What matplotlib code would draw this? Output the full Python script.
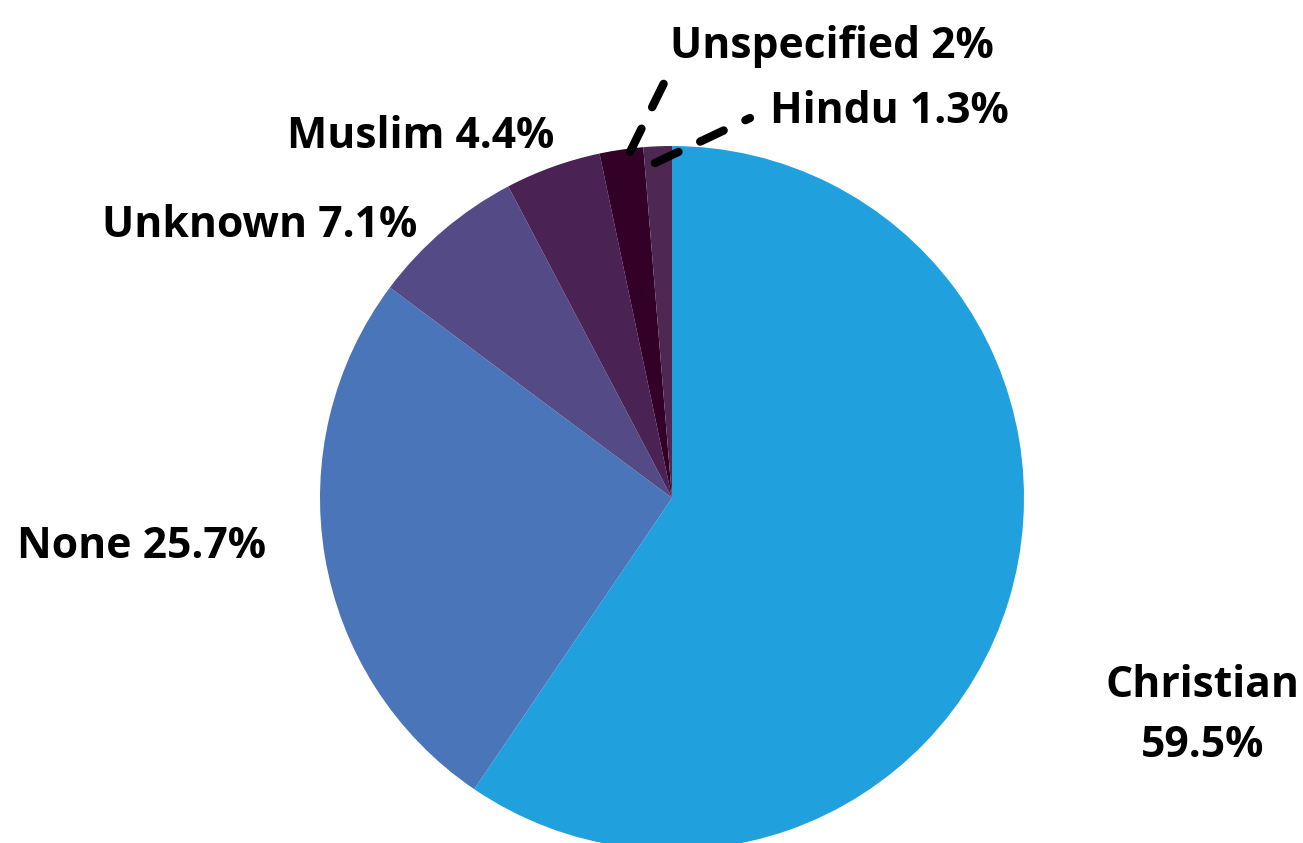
import matplotlib
matplotlib.use("Agg")
import matplotlib.pyplot as plt
import numpy as np

plt.rcParams['font.family'] = ['Open Sans', 'DejaVu Sans']
plt.rcParams['lines.scale_dashes'] = False

categories = ["Christian", "None", "Unknown", "Muslim", "Unspecified", "Hindu"]
values = [59.5, 25.7, 7.1, 4.4, 2.0, 1.3]
value_labels = ["59.5%", "25.7%", "7.1%", "4.4%", "2%", "1.3%"]
colors = ["#21a0de", "#4a75b8", "#544a86", "#4b2254", "#330027", "#4e2852"]

W, H = 1303, 843
fig = plt.figure(figsize=(W / 100, H / 100), dpi=100)
ax = fig.add_axes([0, 0, 1, 1])
ax.set_xlim(0, W)
ax.set_ylim(0, H)
ax.set_aspect('equal')
ax.axis('off')

cx, cy, R = 672, H - 498, 352
ax.pie(values, colors=colors, startangle=90, counterclock=False,
       center=(cx, cy), radius=R, frame=True,
       wedgeprops=dict(linewidth=0))
ax.set_xlim(0, W)
ax.set_ylim(0, H)
ax.axis('off')

fs = 30.7
kw = dict(fontsize=fs, fontweight='bold', color='black')

def py(y):
    return H - y

# labels (pixel-positioned)
ax.text(1203, py(697), "Christian", ha='center', va='baseline', **kw)
ax.text(1203, py(757), "59.5%", ha='center', va='baseline', **kw)
ax.text(17, py(558), f"None {value_labels[1]}", ha='left', va='baseline', **kw)
ax.text(102, py(237), f"Unknown {value_labels[2]}", ha='left', va='baseline', **kw)
ax.text(287, py(148), f"Muslim {value_labels[3]}", ha='left', va='baseline', **kw)
ax.text(670, py(58), f"Unspecified {value_labels[4]}", ha='left', va='baseline', **kw)
ax.text(770, py(123), f"Hindu {value_labels[5]}", ha='left', va='baseline', **kw)

lw_pt = 6.0
on = 26 * 0.72
off = 24 * 0.72
ax.plot([630, 667], [py(152), py(77)], color='black', lw=lw_pt,
        dashes=(on, off), dash_capstyle='round', solid_capstyle='round')
ax.plot([655, 750], [py(163), py(118)], color='black', lw=lw_pt,
        dashes=(on, off), dash_capstyle='round', solid_capstyle='round')

fig.savefig("out.png", dpi=100, facecolor='white')
